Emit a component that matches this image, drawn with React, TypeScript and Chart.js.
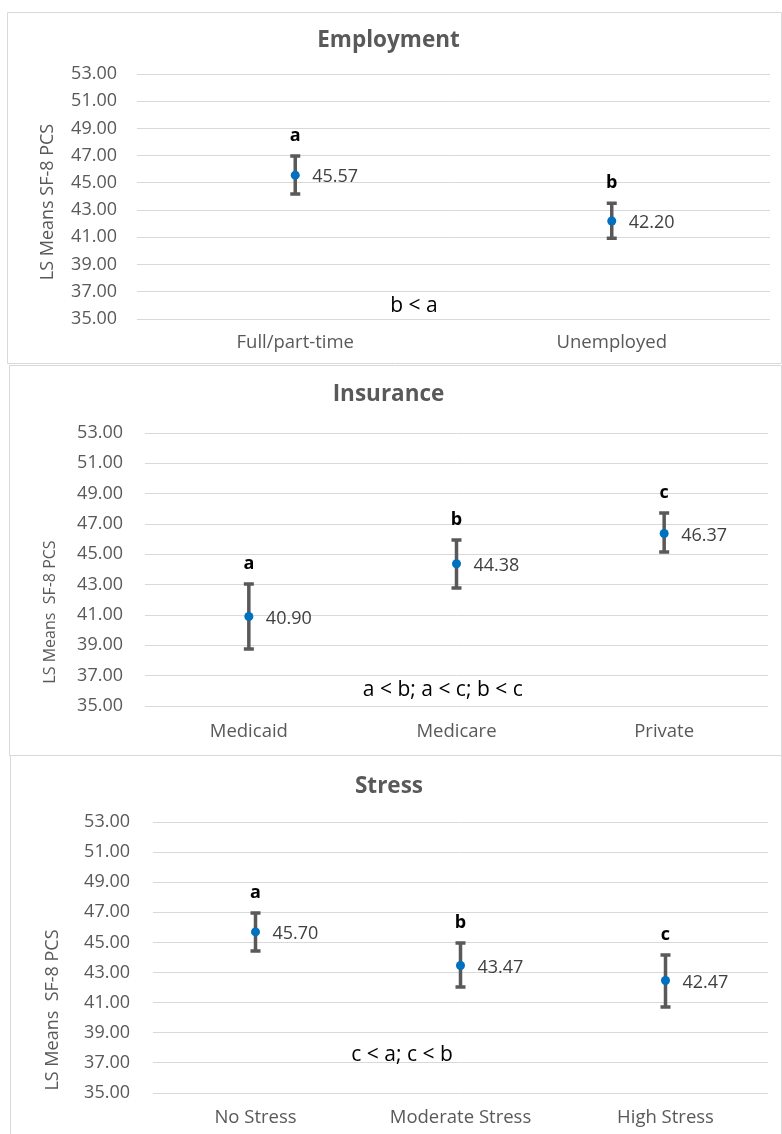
import React, { useEffect, useRef } from "react";
import { Chart, registerables } from "chart.js";

Chart.register(...registerables);

// ---------- data ----------
const employmentCategories = ["Full/part-time", "Unemployed"];
const employmentMeans = [45.57, 42.2];
const employmentUpper = [46.97, 43.51];
const employmentLower = [44.18, 40.94];
const employmentLetters = ["a", "b"];
const employmentNote = "b < a";

const insuranceCategories = ["Medicaid", "Medicare", "Private"];
const insuranceMeans = [40.9, 44.38, 46.37];
const insuranceUpper = [43.05, 45.95, 47.73];
const insuranceLower = [38.76, 42.78, 45.16];
const insuranceLetters = ["a", "b", "c"];
const insuranceNote = "a < b; a < c; b < c";

const stressCategories = ["No Stress", "Moderate Stress", "High Stress"];
const stressMeans = [45.7, 43.47, 42.47];
const stressUpper = [46.96, 44.96, 44.17];
const stressLower = [44.43, 42.04, 40.72];
const stressLetters = ["a", "b", "c"];
const stressNote = "c < a; c < b";

const yMin = 35;
const yMax = 53;
const yStep = 2;

const FONT = "'Open Sans', 'Noto Sans', sans-serif";
const GREY = "#595959";
const GRID = "#d9d9d9";
const BLUE = "#0070C0";

type Panel = {
  title: string;
  yTitle: string;
  categories: string[];
  means: number[];
  upper: number[];
  lower: number[];
  letters: string[];
  note: string;
  box: { left: number; top: number; width: number; height: number };
  plot: { left: number; right: number; top: number; bottom: number };
  titleCenter: number;
  xPad: number;
  yPad: number;
  yTitlePos: { x: number; y: number; size: number };
  notePos: { fx: number; value: number };
  bottomBorder: boolean;
};

const panels: Panel[] = [
  {
    title: "Employment",
    yTitle: "LS Means SF-8 PCS",
    categories: employmentCategories,
    means: employmentMeans,
    upper: employmentUpper,
    lower: employmentLower,
    letters: employmentLetters,
    note: employmentNote,
    box: { left: 7, top: 12, width: 775, height: 352 },
    plot: { left: 130, right: 763, top: 62, bottom: 307 },
    titleCenter: 29,
    xPad: 13,
    yPad: 20,
    yTitlePos: { x: 41, y: 190, size: 18 },
    notePos: { fx: 0.4376, value: 35.94 },
    bottomBorder: true,
  },
  {
    title: "Insurance",
    yTitle: "LS Means  SF-8 PCS",
    categories: insuranceCategories,
    means: insuranceMeans,
    upper: insuranceUpper,
    lower: insuranceLower,
    letters: insuranceLetters,
    note: insuranceNote,
    box: { left: 9, top: 365, width: 773, height: 391 },
    plot: { left: 136, right: 759, top: 68, bottom: 341 },
    titleCenter: 30,
    xPad: 15,
    yPad: 22,
    yTitlePos: { x: 41, y: 247, size: 16 },
    notePos: { fx: 0.478, value: 36.06 },
    bottomBorder: true,
  },
  {
    title: "Stress",
    yTitle: "LS Means  SF-8 PCS",
    categories: stressCategories,
    means: stressMeans,
    upper: stressUpper,
    lower: stressLower,
    letters: stressLetters,
    note: stressNote,
    box: { left: 10, top: 755, width: 772, height: 379 },
    plot: { left: 143, right: 758, top: 67, bottom: 338 },
    titleCenter: 32,
    xPad: 14,
    yPad: 23,
    yTitlePos: { x: 43, y: 255, size: 18 },
    notePos: { fx: 0.405, value: 37.53 },
    bottomBorder: false,
  },
];

const annotate = {
  id: "annotate",
  beforeDatasetsDraw(chart: any, _args: any, opts: any) {
    const p: Panel = opts.panel;
    const { ctx } = chart;
    const xs = chart.scales.x;
    const ys = chart.scales.y;
    ctx.save();
    ctx.strokeStyle = GREY;
    ctx.lineWidth = 3.5;
    ctx.lineCap = "butt";
    p.means.forEach((_m, i) => {
      const x = xs.getPixelForValue(i);
      const yu = ys.getPixelForValue(p.upper[i]);
      const yl = ys.getPixelForValue(p.lower[i]);
      ctx.beginPath();
      ctx.moveTo(x, yu);
      ctx.lineTo(x, yl);
      ctx.moveTo(x - 5, yu);
      ctx.lineTo(x + 5, yu);
      ctx.moveTo(x - 5, yl);
      ctx.lineTo(x + 5, yl);
      ctx.stroke();
    });
    ctx.restore();
  },
  afterDatasetsDraw(chart: any, _args: any, opts: any) {
    const p: Panel = opts.panel;
    const { ctx, chartArea } = chart;
    const xs = chart.scales.x;
    const ys = chart.scales.y;
    ctx.save();
    // letters
    ctx.fillStyle = "#000000";
    ctx.font = `bold 18px ${FONT}`;
    ctx.textAlign = "center";
    ctx.textBaseline = "middle";
    p.letters.forEach((l, i) => {
      const x = xs.getPixelForValue(i);
      const y = ys.getPixelForValue(p.upper[i]) - 20;
      ctx.fillText(l, x, y);
    });
    // value labels
    ctx.fillStyle = "#404040";
    ctx.font = `18px ${FONT}`;
    ctx.textAlign = "left";
    p.means.forEach((m, i) => {
      const x = xs.getPixelForValue(i) + 17;
      const y = ys.getPixelForValue(m) + 2;
      ctx.fillText(m.toFixed(2), x, y);
    });
    // comparison note
    ctx.fillStyle = "#000000";
    ctx.font = `21px ${FONT}`;
    ctx.textAlign = "center";
    const nx = chartArea.left + p.notePos.fx * (chartArea.right - chartArea.left);
    ctx.fillText(p.note, nx, ys.getPixelForValue(p.notePos.value));
    // y axis title
    ctx.fillStyle = GREY;
    ctx.font = `${p.yTitlePos.size}px ${FONT}`;
    ctx.translate(p.yTitlePos.x, p.yTitlePos.y);
    ctx.rotate(-Math.PI / 2);
    ctx.fillText(p.yTitle, 0, 0);
    ctx.restore();
  },
  afterDraw(chart: any, _args: any, opts: any) {
    const p: Panel = opts.panel;
    const { ctx, width, height } = chart;
    ctx.save();
    ctx.strokeStyle = GRID;
    ctx.lineWidth = 1;
    ctx.beginPath();
    if (p.bottomBorder) {
      ctx.rect(0.5, 0.5, width - 1, height - 1);
    } else {
      ctx.moveTo(0.5, height);
      ctx.lineTo(0.5, 0.5);
      ctx.lineTo(width - 0.5, 0.5);
      ctx.lineTo(width - 0.5, height);
    }
    ctx.stroke();
    ctx.restore();
  },
};

function ErrorPanel({ p }: { p: Panel }) {
  const ref = useRef<HTMLCanvasElement | null>(null);
  useEffect(() => {
    if (!ref.current) return;
    const titleLine = 22.5 * 1.2;
    const padTop = p.titleCenter - titleLine / 2;
    const padBottom = p.plot.top - padTop - titleLine;
    const chart = new Chart(ref.current, {
      type: "line",
      data: {
        labels: p.categories,
        datasets: [
          {
            data: p.means,
            showLine: false,
            pointRadius: 4.5,
            pointHoverRadius: 4.5,
            pointBackgroundColor: BLUE,
            pointBorderColor: BLUE,
            pointBorderWidth: 0,
            backgroundColor: BLUE,
            borderColor: BLUE,
          },
        ],
      },
      options: {
        responsive: false,
        animation: false,
        events: [],
        layout: {
          padding: { top: 0, left: 0, bottom: 0, right: p.box.width - p.plot.right },
        },
        plugins: {
          legend: { display: false },
          tooltip: { enabled: false },
          title: {
            display: true,
            text: p.title,
            color: GREY,
            font: { family: FONT, size: 22.5, weight: "bold", lineHeight: 1.2 },
            padding: { top: padTop, bottom: padBottom },
          },
          annotate: { panel: p },
        } as any,
        scales: {
          x: {
            type: "category",
            offset: true,
            grid: { display: false, drawTicks: false },
            border: { display: false },
            ticks: {
              color: GREY,
              padding: p.xPad,
              font: { family: FONT, size: 18.5, lineHeight: 1.2 },
              maxRotation: 0,
              autoSkip: false,
            },
            afterFit: (s: any) => {
              s.height = p.box.height - p.plot.bottom;
            },
          },
          y: {
            min: yMin,
            max: yMax,
            grid: { color: GRID, lineWidth: 1, drawTicks: false },
            border: { display: false },
            ticks: {
              stepSize: yStep,
              color: GREY,
              padding: p.yPad,
              font: { family: FONT, size: 18 },
              callback: (v: any) => Number(v).toFixed(2),
            },
            afterFit: (s: any) => {
              s.width = p.plot.left;
            },
          },
        },
      },
      plugins: [annotate as any],
    });
    return () => chart.destroy();
  }, [p]);
  return (
    <canvas
      ref={ref}
      width={p.box.width}
      height={p.box.height}
      style={{
        position: "absolute",
        left: p.box.left,
        top: p.box.top,
        width: p.box.width,
        height: p.box.height,
      }}
    />
  );
}

export default function App() {
  return (
    <div
      style={{
        position: "absolute",
        left: 0,
        top: 0,
        width: 782,
        height: 1134,
        overflow: "hidden",
        background: "#ffffff",
      }}
    >
      {panels.map((p) => (
        <ErrorPanel key={p.title} p={p} />
      ))}
    </div>
  );
}
